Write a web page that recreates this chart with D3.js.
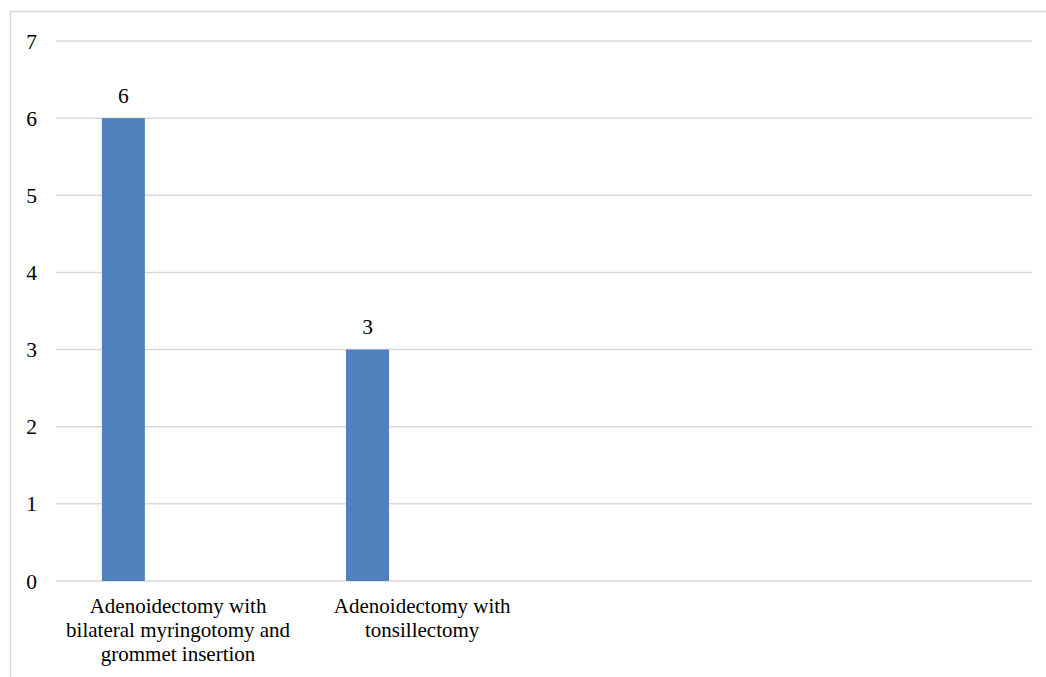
<!DOCTYPE html>
<html>
<head>
<meta charset="utf-8">
<script src="https://cdn.jsdelivr.net/npm/d3@7"></script>
<style>
  html, body { margin: 0; padding: 0; background: #fff; }
  svg { display: block; }
</style>
</head>
<body>
<svg id="chart" width="1046" height="677"></svg>
<script>
// Data
const categories = [
  ["Adenoidectomy with", "bilateral myringotomy and", "grommet insertion"],
  ["Adenoidectomy with", "tonsillectomy"],
  [],
  []
];
const values = [6, 3, null, null];
const yTicks = [0, 1, 2, 3, 4, 5, 6, 7];

(function () {
const W = 1046, H = 677;
const FONT = '"Liberation Serif", "Times New Roman", Times, serif';
const svg = d3.select("#chart");

// outer border
svg.append("rect")
  .attr("x", 10.5).attr("y", 11.5)
  .attr("width", W + 20).attr("height", H + 20)
  .attr("fill", "none").attr("stroke", "#d9d9d9").attr("stroke-width", 1.5);

const mLeft = 56, mRight = 1032.5, mTop = 41, mBottom = 581;

const x = d3.scaleBand().domain(d3.range(categories.length)).range([mLeft, mRight]).padding(0);
const y = d3.scaleLinear().domain([0, 7]).range([mBottom, mTop]);

// gridlines
svg.append("g").selectAll("line").data(yTicks).join("line")
  .attr("x1", mLeft).attr("x2", mRight)
  .attr("y1", d => y(d)).attr("y2", d => y(d))
  .attr("stroke", "#d9d9d9").attr("stroke-width", 1.5);

// y axis labels
svg.append("g").selectAll("text").data(yTicks).join("text")
  .attr("x", 37).attr("y", d => y(d))
  .attr("dy", "0.35em")
  .attr("text-anchor", "end")
  .style("font-family", FONT)
  .style("font-size", "21.5px")
  .attr("fill", "#000")
  .text(d => d);

// bars
const barOff = 0.188, barW = 0.176;
const data = values.map((v, i) => ({ i, v })).filter(d => d.v != null);
svg.append("g").selectAll("rect").data(data).join("rect")
  .attr("x", d => x(d.i) + x.bandwidth() * barOff)
  .attr("width", x.bandwidth() * barW)
  .attr("y", d => y(d.v))
  .attr("height", d => y(0) - y(d.v))
  .attr("fill", "#4f81bd");

// value labels
svg.append("g").selectAll("text").data(data).join("text")
  .attr("x", d => x(d.i) + x.bandwidth() * (barOff + barW / 2))
  .attr("y", d => y(d.v) - 15.5)
  .attr("text-anchor", "middle")
  .style("font-family", FONT)
  .style("font-size", "21.5px")
  .attr("fill", "#000")
  .text(d => d.v);

// category labels
const catG = svg.append("g").selectAll("g").data(categories).join("g")
  .attr("transform", (d, i) => `translate(${x(i) + x.bandwidth() / 2},613)`);
catG.selectAll("text").data(d => d).join("text")
  .attr("x", 0)
  .attr("y", (d, j) => j * 24)
  .attr("text-anchor", "middle")
  .style("font-family", FONT)
  .style("font-size", "21px")
  .attr("fill", "#000")
  .text(d => d);
})();
</script>
</body>
</html>
